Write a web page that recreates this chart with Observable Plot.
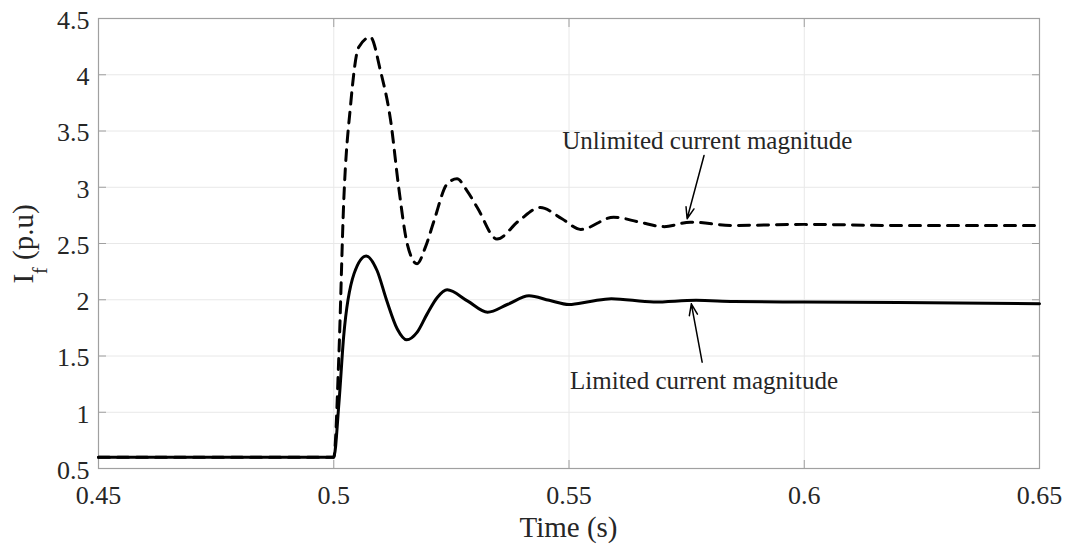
<!DOCTYPE html>
<html>
<head>
<meta charset="utf-8">
<script src="https://cdn.jsdelivr.net/npm/d3@7"></script>
<script src="https://cdn.jsdelivr.net/npm/@observablehq/plot@0.6"></script>
<style>
  html, body { margin: 0; padding: 0; background: #ffffff; }
  #chart svg { display: block; }
</style>
</head>
<body>
<div id="chart"></div>
<script>
// ---- Data ----
const limitedTime = [0.45, 0.5, 0.5011, 0.5021, 0.5043, 0.5069, 0.5092, 0.5112, 0.5135, 0.5155, 0.5177, 0.5198, 0.522, 0.5241, 0.5284, 0.5327, 0.537, 0.5415, 0.5458, 0.55, 0.5545, 0.559, 0.568, 0.577, 0.585, 0.6, 0.62, 0.65];
const limitedCurrent = [0.6, 0.6, 1.08, 1.67, 2.23, 2.39, 2.26, 2.0, 1.74, 1.644, 1.71, 1.87, 2.02, 2.088, 1.99, 1.889, 1.96, 2.035, 1.995, 1.958, 1.985, 2.01, 1.98, 1.995, 1.985, 1.98, 1.975, 1.965];

const unlimitedTime = [0.45, 0.5, 0.5011, 0.5021, 0.5036, 0.5053, 0.5078, 0.5099, 0.5121, 0.5138, 0.5156, 0.5177, 0.5195, 0.5213, 0.5241, 0.5262, 0.5283, 0.5305, 0.5347, 0.5393, 0.5439, 0.5485, 0.5525, 0.5595, 0.565, 0.5702, 0.5758, 0.585, 0.6, 0.62, 0.65];
const unlimitedCurrent = [0.6, 0.6, 1.52, 2.85, 3.74, 4.245, 4.334, 4.04, 3.59, 3.0, 2.5, 2.32, 2.47, 2.70, 3.03, 3.075, 2.97, 2.82, 2.54, 2.70, 2.82, 2.72, 2.625, 2.734, 2.69, 2.65, 2.69, 2.66, 2.67, 2.66, 2.66];

const xTicks = [0.45, 0.5, 0.55, 0.6, 0.65];
const xTickLabels = ["0.45", "0.5", "0.55", "0.6", "0.65"];
const yTicks = [0.5, 1, 1.5, 2, 2.5, 3, 3.5, 4, 4.5];
const yTickLabels = ["0.5", "1", "1.5", "2", "2.5", "3", "3.5", "4", "4.5"];

const annotationText = ["Unlimited current magnitude", "Limited current magnitude"];
const annotationX = [0.5794, 0.5787];
const annotationY = [3.407, 1.282];
const arrowTailX = [0.5787, 0.5783];
const arrowTailY = [3.282, 1.445];
const arrowTipX = [0.5751, 0.5760];
const arrowTipY = [2.72, 1.964];

const xLabel = "Time (s)";
const yLabelMain = "I";
const yLabelSub = "f";
const yLabelRest = " (p.u)";

// ---- Build tables ----
const limited = limitedTime.map((t, i) => ({t, v: limitedCurrent[i]}));
const unlimited = unlimitedTime.map((t, i) => ({t, v: unlimitedCurrent[i]}));
const annotations = annotationText.map((text, i) => ({text, x: annotationX[i], y: annotationY[i]}));
const arrows = arrowTailX.map((x1, i) => ({x1, y1: arrowTailY[i], x2: arrowTipX[i], y2: arrowTipY[i]}));
const xLabelRows = xTicks.map((v, i) => ({v, label: xTickLabels[i]}));
const yLabelRows = yTicks.map((v, i) => ({v, label: yTickLabels[i]}));

const blank = () => "";

const serif = "Liberation Serif";
const textColor = "#262626";
const axisColor = "#a0a0a0";
const gridColor = "#e8e8e8";

const chart = Plot.plot({
  width: 1069,
  height: 546,
  marginLeft: 98,
  marginRight: 30,
  marginTop: 18,
  marginBottom: 78,
  style: {fontFamily: serif, color: textColor, background: "#ffffff"},
  x: {domain: [0.45, 0.65], label: null},
  y: {domain: [0.5, 4.5], label: null},
  marks: [
    Plot.gridX(xTicks, {stroke: gridColor, strokeOpacity: 1, strokeWidth: 1}),
    Plot.gridY(yTicks, {stroke: gridColor, strokeOpacity: 1, strokeWidth: 1}),
    // inward tick marks on all four sides
    Plot.axisY(yTicks, {anchor: "left", tickSize: 8, insetLeft: 8, tickFormat: blank, stroke: axisColor, label: null}),
    Plot.axisY(yTicks, {anchor: "right", tickSize: 8, insetRight: 8, tickFormat: blank, stroke: axisColor, label: null}),
    Plot.axisX(xTicks, {anchor: "bottom", tickSize: 8, insetBottom: 8, tickFormat: blank, stroke: axisColor, label: null}),
    Plot.axisX(xTicks, {anchor: "top", tickSize: 8, insetTop: 8, tickFormat: blank, stroke: axisColor, label: null}),
    // tick labels (serif text marks)
    Plot.text(xLabelRows, {x: "v", text: "label", frameAnchor: "bottom", lineAnchor: "top", dy: 17, fontSize: 26, fontFamily: serif, fill: textColor}),
    Plot.text(yLabelRows, {y: "v", text: "label", frameAnchor: "left", textAnchor: "end", lineAnchor: "middle", dx: -9, dy: 2, fontSize: 26, fontFamily: serif, fill: textColor}),
    Plot.frame({stroke: axisColor, strokeWidth: 1.2}),
    Plot.line(unlimited, {x: "t", y: "v", curve: "monotone-x", stroke: "#000000", strokeWidth: 3, strokeDasharray: "11,8"}),
    Plot.line(limited, {x: "t", y: "v", curve: "monotone-x", stroke: "#000000", strokeWidth: 3}),
    Plot.arrow(arrows, {x1: "x1", y1: "y1", x2: "x2", y2: "y2", stroke: "#000000", strokeWidth: 1.5, headLength: 12, headAngle: 40}),
    Plot.text(annotations, {x: "x", y: "y", text: "text", fontSize: 25, fontFamily: serif, fill: textColor, textAnchor: "middle", lineAnchor: "middle"})
  ]
});

document.getElementById("chart").appendChild(chart);

// axis titles (real text, with a subscript in the y label)
const svg = d3.select(chart);
svg.append("text")
  .attr("x", 568.5)
  .attr("y", 537)
  .attr("text-anchor", "middle")
  .attr("font-family", serif)
  .attr("font-size", 29)
  .attr("fill", textColor)
  .text(xLabel);

const yt = svg.append("text")
  .attr("transform", "translate(33,244) rotate(-90)")
  .attr("text-anchor", "middle")
  .attr("font-family", serif)
  .attr("font-size", 29)
  .attr("fill", textColor);
yt.append("tspan").text(yLabelMain);
yt.append("tspan").attr("dy", 14).attr("font-size", 20).text(yLabelSub);
yt.append("tspan").attr("dy", -14).text(yLabelRest);
</script>
</body>
</html>
